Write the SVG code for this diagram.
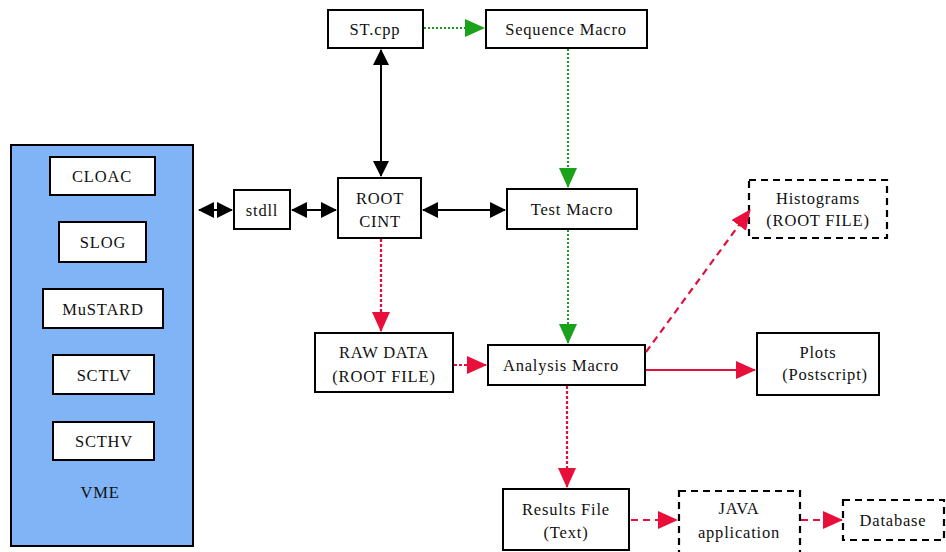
<svg xmlns="http://www.w3.org/2000/svg" width="946" height="552" viewBox="0 0 946 552">
<style>
.box{fill:#fff;stroke:#000;stroke-width:2}
.dbox{fill:#fff;stroke:#000;stroke-width:2.2;stroke-dasharray:7 5}
text{font-family:"Liberation Serif","Times New Roman","DejaVu Serif",serif;font-size:16.5px;letter-spacing:0.8px;fill:#111;text-anchor:middle}
.blk{stroke:#000;stroke-width:2;fill:none}
.grn{stroke:#1d9a1d;stroke-width:2;fill:none;stroke-dasharray:2 2}
.red{stroke:#e0103c;stroke-width:2.2;fill:none}
.rdot{stroke-dasharray:3 2}
.rdash{stroke-dasharray:7 5}
</style>
<defs>
<marker id="ab" markerWidth="16" markerHeight="18" refX="15" refY="9" orient="auto" markerUnits="userSpaceOnUse"><path d="M0,1 L16,9 L0,17 Z" fill="#000"/></marker>
<marker id="abs" markerWidth="16" markerHeight="18" refX="1" refY="9" orient="auto" markerUnits="userSpaceOnUse"><path d="M16,1 L0,9 L16,17 Z" fill="#000"/></marker>
<marker id="ag" markerWidth="20" markerHeight="20" refX="19" refY="10" orient="auto" markerUnits="userSpaceOnUse"><path d="M0,1 L20,10 L0,19 Z" fill="#1aa31a"/></marker>
<marker id="ar" markerWidth="20" markerHeight="20" refX="19" refY="10" orient="auto" markerUnits="userSpaceOnUse"><path d="M0,1 L20,10 L0,19 Z" fill="#e8103a"/></marker>
</defs>
<rect width="946" height="552" fill="#fff"/>
<g id="vme">
<rect x="11" y="145" width="182" height="401" fill="#80b4f6" stroke="#000" stroke-width="2"/>
<text x="100" y="498" fill="#1a2a5a">VME</text>
</g>
<g id="cloac"><rect class="box" x="50" y="157" width="105" height="38"/><text x="102" y="182">CLOAC</text></g>
<g id="slog"><rect class="box" x="59" y="222" width="87" height="40"/><text x="103" y="248">SLOG</text></g>
<g id="mustard"><rect class="box" x="43" y="289" width="120" height="39"/><text x="103" y="315">MuSTARD</text></g>
<g id="sctlv"><rect class="box" x="53" y="355" width="101" height="39"/><text x="104" y="381">SCTLV</text></g>
<g id="scthv"><rect class="box" x="53" y="422" width="101" height="38"/><text x="104" y="447">SCTHV</text></g>
<g id="stdll"><rect class="box" x="234" y="190" width="56" height="39"/><text x="262" y="216">stdll</text></g>
<g id="root"><rect class="box" x="338" y="178" width="83" height="60"/><text x="380" y="204">ROOT</text><text x="380" y="227">CINT</text></g>
<g id="stcpp"><rect class="box" x="328" y="10" width="95" height="38"/><text x="375" y="35">ST.cpp</text></g>
<g id="seq"><rect class="box" x="486" y="10" width="161" height="38"/><text x="566" y="35">Sequence Macro</text></g>
<g id="test"><rect class="box" x="507" y="189" width="130" height="40"/><text x="572" y="215">Test Macro</text></g>
<g id="raw"><rect class="box" x="315" y="333" width="138" height="59"/><text x="384" y="358">RAW DATA</text><text x="384" y="382">(ROOT FILE)</text></g>
<g id="analysis"><rect class="box" x="488" y="345" width="157" height="40"/><text x="561" y="371">Analysis Macro</text></g>
<g id="hist"><rect class="dbox" x="749" y="180" width="138" height="58"/><text x="818" y="204">Histograms</text><text x="818" y="226">(ROOT FILE)</text></g>
<g id="plots"><rect class="box" x="757" y="333" width="122" height="62"/><text x="818" y="358">Plots</text><text x="825" y="380">(Postscript)</text></g>
<g id="results"><rect class="box" x="503" y="489" width="126" height="61"/><text x="566" y="515">Results File</text><text x="566" y="538">(Text)</text></g>
<g id="java"><rect class="dbox" x="679" y="491" width="121" height="62"/><text x="739" y="514">JAVA</text><text x="739" y="538">application</text></g>
<g id="db"><rect class="dbox" x="843" y="500" width="101" height="40"/><text x="893" y="526">Database</text></g>
<g id="connectors">
<line class="blk" x1="199" y1="210" x2="232" y2="210" marker-start="url(#abs)" marker-end="url(#ab)"/>
<line class="blk" x1="292" y1="210" x2="336" y2="210" marker-start="url(#abs)" marker-end="url(#ab)"/>
<line class="blk" x1="423" y1="210" x2="505" y2="210" marker-start="url(#abs)" marker-end="url(#ab)"/>
<line class="blk" x1="381" y1="50" x2="381" y2="176" marker-start="url(#abs)" marker-end="url(#ab)"/>
<line class="grn" x1="424" y1="28" x2="484" y2="28" marker-end="url(#ag)"/>
<line class="grn" x1="568" y1="49" x2="568" y2="187" marker-end="url(#ag)"/>
<line class="grn" x1="568" y1="230" x2="568" y2="343" marker-end="url(#ag)"/>
<line class="red rdot" x1="381" y1="239" x2="381" y2="331" marker-end="url(#ar)"/>
<line class="red rdot" x1="454" y1="365" x2="486" y2="365" marker-end="url(#ar)"/>
<line class="red" x1="646" y1="370" x2="755" y2="370" marker-end="url(#ar)"/>
<line class="red rdash" x1="646" y1="352" x2="750" y2="210" marker-end="url(#ar)"/>
<line class="red rdot" x1="567" y1="386" x2="567" y2="487" marker-end="url(#ar)"/>
<line class="red rdash" x1="631" y1="520" x2="677" y2="520" marker-end="url(#ar)"/>
<line class="red rdash" x1="801" y1="520" x2="842" y2="520" marker-end="url(#ar)"/>
</g>
</svg>
